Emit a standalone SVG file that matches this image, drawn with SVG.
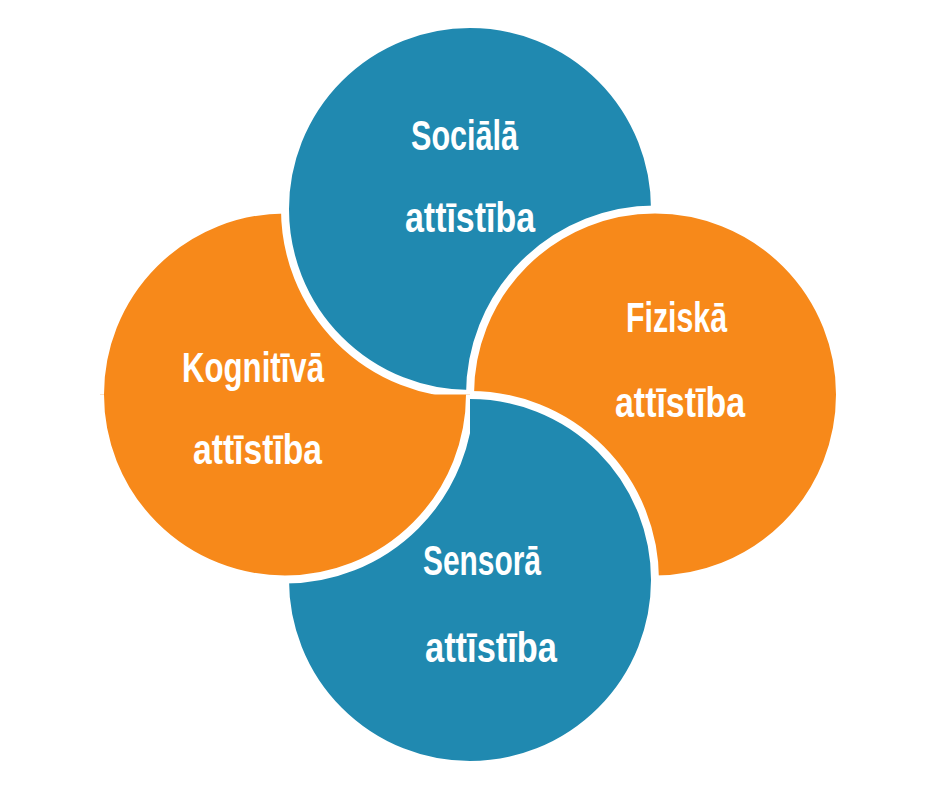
<svg xmlns="http://www.w3.org/2000/svg" xmlns:xlink="http://www.w3.org/1999/xlink" width="940" height="788" viewBox="0 0 940 788">
  <style>
    .blue { fill: #2089B0; stroke: #FFFFFF; stroke-width: 8; }
    .orange { fill: #F7891A; stroke: #FFFFFF; stroke-width: 8; }
    .label { fill: #FFFFFF; font-family: "Liberation Sans", "DejaVu Sans", Arial, sans-serif; font-weight: bold; font-size: 42px; text-anchor: middle; }
  </style>
  <defs>
    <clipPath id="lowerLeft">
      <rect x="0" y="394.5" width="470" height="400"/>
    </clipPath>
  </defs>
  <rect x="0" y="0" width="940" height="788" fill="#FFFFFF"/>

  <g id="kognitiva-back">
    <circle id="circ-kognitiva" class="orange" cx="285" cy="394.5" r="185"/>
  </g>

  <g id="sociala">
    <circle class="blue" cx="470" cy="209" r="185"/>
    <text class="label" x="464.5" y="150" textLength="107" lengthAdjust="spacingAndGlyphs">Sociālā</text>
    <text class="label" x="470" y="232" textLength="130" lengthAdjust="spacingAndGlyphs">attīstība</text>
  </g>

  <g id="fiziska">
    <circle class="orange" cx="655" cy="394.5" r="185"/>
    <text class="label" x="676.5" y="332" textLength="101" lengthAdjust="spacingAndGlyphs">Fiziskā</text>
    <text class="label" x="680" y="417" textLength="130" lengthAdjust="spacingAndGlyphs">attīstība</text>
  </g>

  <g id="sensora">
    <circle class="blue" cx="470" cy="580" r="185"/>
    <text class="label" x="482" y="575" textLength="118" lengthAdjust="spacingAndGlyphs">Sensorā</text>
    <text class="label" x="491" y="662" textLength="132" lengthAdjust="spacingAndGlyphs">attīstība</text>
  </g>

  <g id="kognitiva">
    <use xlink:href="#circ-kognitiva" clip-path="url(#lowerLeft)"/>
    <text class="label" x="253" y="382" textLength="142" lengthAdjust="spacingAndGlyphs">Kognitīvā</text>
    <text class="label" x="257.5" y="464" textLength="129" lengthAdjust="spacingAndGlyphs">attīstība</text>
  </g>
</svg>
